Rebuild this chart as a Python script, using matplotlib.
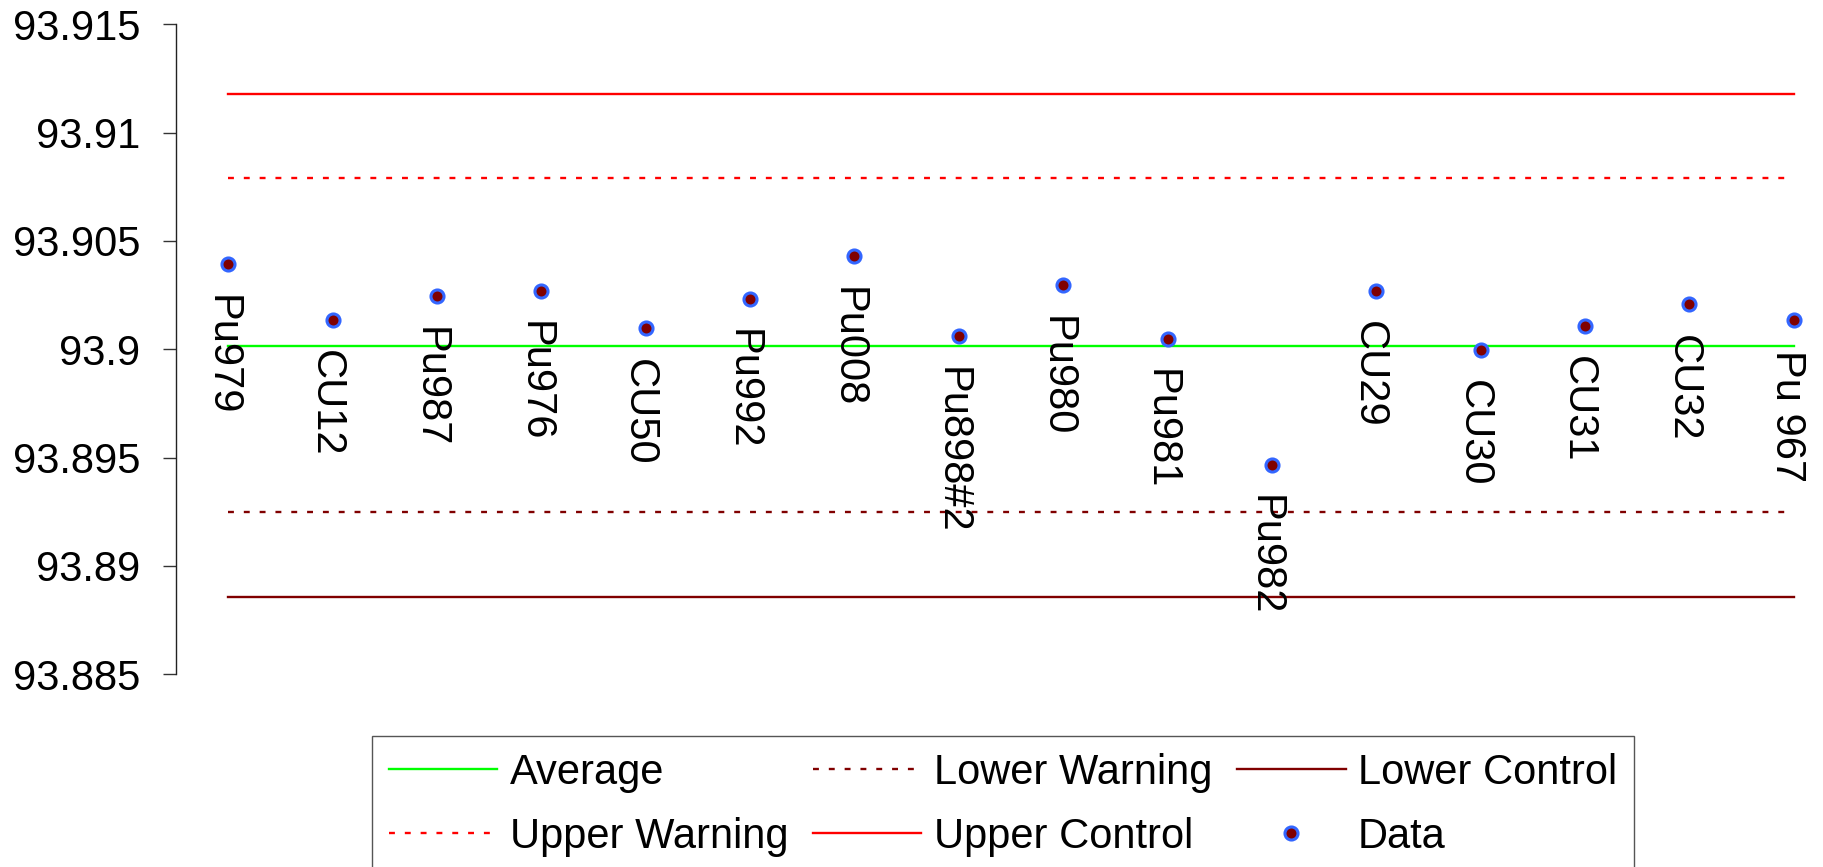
import numpy as np
import matplotlib
matplotlib.use('Agg')
import matplotlib.pyplot as plt
from matplotlib.ticker import FuncFormatter

plt.rcParams['font.family'] = ['Liberation Sans', 'DejaVu Sans']

# sample names and measured values
samples = ['Pu979', 'CU12', 'Pu987', 'Pu976', 'CU50', 'Pu992', 'Pu008', 'Pu898#2',
           'Pu980', 'Pu981', 'Pu982', 'CU29', 'CU30', 'CU31', 'CU32', 'Pu 967']
values = [93.90393, 93.90137, 93.90246, 93.90270, 93.90098, 93.90233, 93.90430, 93.90061,
          93.90296, 93.90048, 93.89467, 93.90270, 93.89998, 93.90109, 93.90207, 93.90137]

# control chart limits
average = 93.90015
upper_warning = 93.90789
lower_warning = 93.89248
upper_control = 93.91177
lower_control = 93.88857

y_ticks = [93.885, 93.89, 93.895, 93.9, 93.905, 93.91, 93.915]

W, H = 1823, 867
fig = plt.figure(figsize=(W / 100, H / 100), dpi=100)
ax = fig.add_axes([176 / W, 1 - 674.3 / H, 1 - 176 / W, 650 / H])

x = np.arange(len(samples))
n = len(samples)
dash = (2.5, 4.2)

l_avg, = ax.plot(x, np.full(n, average), color='#00ff00', lw=1.7)
l_uw, = ax.plot(x, np.full(n, upper_warning), color='#ff0000', lw=1.7, dashes=dash)
l_lw, = ax.plot(x, np.full(n, lower_warning), color='#800000', lw=1.7, dashes=dash)
l_uc, = ax.plot(x, np.full(n, upper_control), color='#ff0000', lw=1.7)
l_lc, = ax.plot(x, np.full(n, lower_control), color='#800000', lw=1.7)
l_data, = ax.plot(x, values, linestyle='none', marker='o', ms=9.4,
                  markerfacecolor='#800000', markeredgecolor='#3366ff', mew=2.2, zorder=5)

# vertical labels under each point
for xi, v, name in zip(x, values, samples):
    ax.annotate(name, (xi, v), xytext=(-5, -22), textcoords='offset points',
                rotation=270, ha='center', va='top', fontsize=30, annotation_clip=False)

ax.set_xlim(-0.5, 15.28)
ax.set_ylim(93.885, 93.915)
ax.set_yticks(y_ticks)
ax.yaxis.set_major_formatter(FuncFormatter(lambda v, p: '{:g}'.format(v)))
ax.tick_params(axis='y', labelsize=30, length=9.4, width=1, pad=16.5, color='#333333')
ax.set_xticks([])
for s in ['top', 'right', 'bottom']:
    ax.spines[s].set_visible(False)
ax.spines['left'].set_color('#222222')
ax.spines['left'].set_linewidth(1)

handles = [l_avg, l_uw, l_lw, l_uc, l_lc, l_data]
labels = ['Average', 'Upper Warning', 'Lower Warning', 'Upper Control', 'Lower Control', 'Data']
leg = fig.legend(handles, labels, ncol=3, loc='upper left',
                 bbox_to_anchor=(372 / W, 1 - 736 / H), frameon=True, fancybox=False,
                 edgecolor='#555555', framealpha=1, handlelength=2.6, handletextpad=0.3,
                 columnspacing=0.6, labelspacing=0.58, borderpad=0.4, borderaxespad=0,
                 fontsize=30, numpoints=1)
leg.get_frame().set_linewidth(1.0)

fig.savefig('out.png', dpi=100)
